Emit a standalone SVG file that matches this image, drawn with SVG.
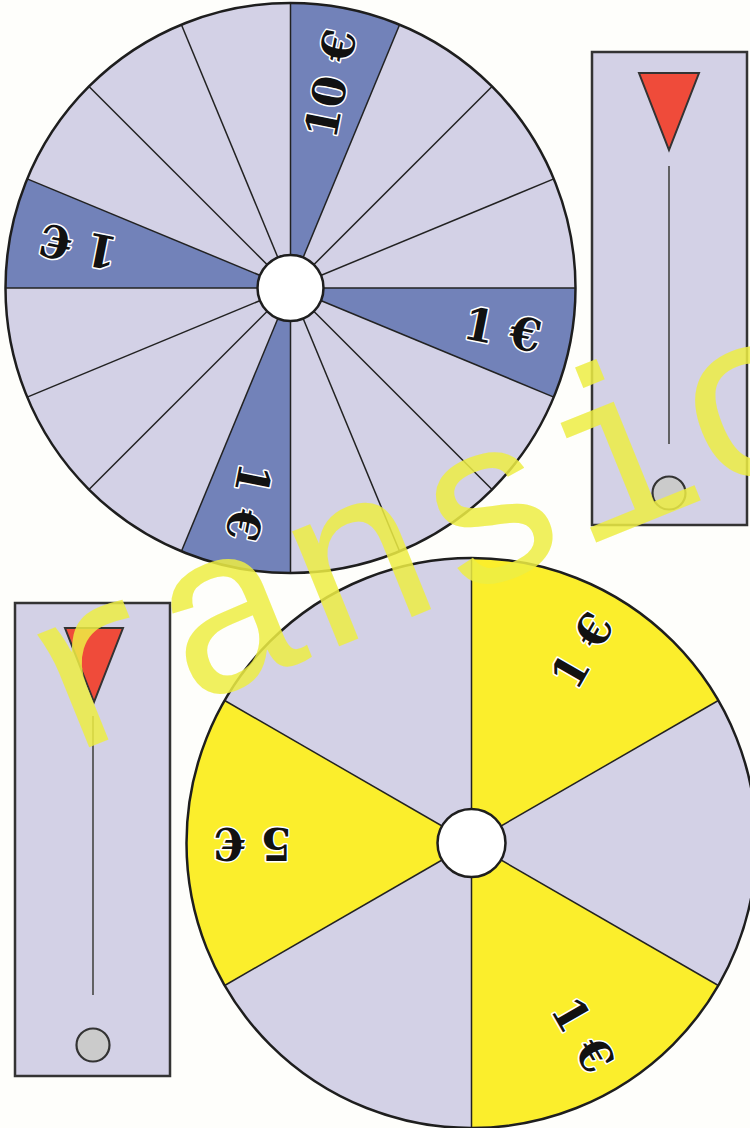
<svg xmlns="http://www.w3.org/2000/svg" width="750" height="1128" viewBox="0 0 750 1128">
<style>
.lt{fill:#d3d1e6;}
.dk{fill:#7282b9;}
.yl{fill:#fbee2c;}
.sep{stroke:#222;stroke-width:1.5;fill:none;}
.rim{fill:none;stroke:#1e1e1e;stroke-width:2.5;}
.hub{fill:#ffffff;stroke:#1e1e1e;stroke-width:2.5;}
.lbl{font-family:"DejaVu Serif","Liberation Serif",serif;font-weight:bold;font-size:45px;fill:#111;stroke:#ffffff;stroke-width:3;paint-order:stroke;stroke-linejoin:round;text-anchor:middle;dominant-baseline:central;}
.card{fill:#d3d1e6;stroke:#333;stroke-width:2.5;}
.ptr{fill:#ef4b3a;stroke:#333;stroke-width:2;stroke-linejoin:miter;}
.rod{stroke:#555;stroke-width:1.8;}
.knob{fill:#cbcbcb;stroke:#333;stroke-width:2.2;}
.wm{font-family:"Liberation Mono","Courier New",monospace;font-size:235px;fill:#eeee44;opacity:0.85;}
</style>
<rect x="0" y="0" width="750" height="1128" fill="#fefefb"/>

<g id="wheel-top">
<circle cx="290.5" cy="288" r="285" class="lt"/>
<path class="dk" d="M290.5 288 L575.5 288 A285 285 0 0 1 553.81 397.07 Z"/>
<path class="dk" d="M290.5 288 L290.5 573 A285 285 0 0 1 181.43 551.31 Z"/>
<path class="dk" d="M290.5 288 L5.5 288 A285 285 0 0 1 27.19 178.93 Z"/>
<path class="dk" d="M290.5 288 L290.5 3 A285 285 0 0 1 399.57 24.69 Z"/>
<g class="sep">
<line x1="290.5" y1="288" x2="575.5" y2="288"/>
<line x1="290.5" y1="288" x2="553.81" y2="397.07"/>
<line x1="290.5" y1="288" x2="492.03" y2="489.53"/>
<line x1="290.5" y1="288" x2="399.57" y2="551.31"/>
<line x1="290.5" y1="288" x2="290.5" y2="573"/>
<line x1="290.5" y1="288" x2="181.43" y2="551.31"/>
<line x1="290.5" y1="288" x2="88.97" y2="489.53"/>
<line x1="290.5" y1="288" x2="27.19" y2="397.07"/>
<line x1="290.5" y1="288" x2="5.5" y2="288"/>
<line x1="290.5" y1="288" x2="27.19" y2="178.93"/>
<line x1="290.5" y1="288" x2="88.97" y2="86.47"/>
<line x1="290.5" y1="288" x2="181.43" y2="24.69"/>
<line x1="290.5" y1="288" x2="290.5" y2="3"/>
<line x1="290.5" y1="288" x2="399.57" y2="24.69"/>
<line x1="290.5" y1="288" x2="492.03" y2="86.47"/>
<line x1="290.5" y1="288" x2="553.81" y2="178.93"/>
</g>
<circle cx="290.5" cy="288" r="285" class="rim"/>
<circle cx="290.5" cy="288" r="33" class="hub"/>
<text class="lbl" transform="translate(290.5 288) rotate(-78.75) translate(208 0)">10 €</text>
<text class="lbl" transform="translate(290.5 288) rotate(11.25) translate(216 0)">1 €</text>
<text class="lbl" transform="translate(290.5 288) rotate(101.25) translate(218 0)">1 €</text>
<text class="lbl" transform="translate(290.5 288) rotate(191.25) translate(216 0)">1 €</text>
</g>

<g id="slider-right">
<rect class="card" x="592" y="52" width="155" height="473"/>
<polygon class="ptr" points="639,73 699,73 669,150"/>
<line class="rod" x1="669" y1="166" x2="669" y2="444"/>
<circle class="knob" cx="669" cy="493" r="16.5"/>
</g>

<g id="wheel-bottom">
<circle cx="471.5" cy="843" r="285" class="lt"/>
<path class="yl" d="M471.5 843 L471.5 558 A285 285 0 0 1 718.32 700.5 Z"/>
<path class="yl" d="M471.5 843 L718.32 985.5 A285 285 0 0 1 471.5 1128 Z"/>
<path class="yl" d="M471.5 843 L224.68 985.5 A285 285 0 0 1 224.68 700.5 Z"/>
<g class="sep">
<line x1="471.5" y1="843" x2="471.5" y2="558"/>
<line x1="471.5" y1="843" x2="718.32" y2="700.5"/>
<line x1="471.5" y1="843" x2="718.32" y2="985.5"/>
<line x1="471.5" y1="843" x2="471.5" y2="1128"/>
<line x1="471.5" y1="843" x2="224.68" y2="985.5"/>
<line x1="471.5" y1="843" x2="224.68" y2="700.5"/>
</g>
<circle cx="471.5" cy="843" r="285" class="rim"/>
<circle cx="471.5" cy="843" r="34" class="hub"/>
<text class="lbl" transform="translate(471.5 843) rotate(-60) translate(222 0)">1 €</text>
<text class="lbl" transform="translate(471.5 843) rotate(60) translate(222 0)">1 €</text>
<text class="lbl" transform="translate(471.5 843) rotate(180) translate(219 0)">5 €</text>
</g>

<g id="slider-left">
<rect class="card" x="15" y="603" width="155" height="473"/>
<polygon class="ptr" points="65,628 123,628 94,702"/>
<line class="rod" x1="93" y1="716" x2="93" y2="995"/>
<circle class="knob" cx="93" cy="1045" r="16.5"/>
</g>

<g id="watermark">
<text class="wm" transform="translate(58 760) rotate(-22)">ransic</text>
</g>
</svg>
